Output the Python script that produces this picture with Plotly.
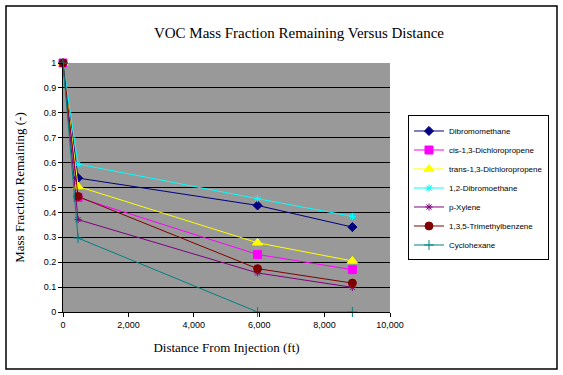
import plotly.graph_objects as go

distance = [0, 460, 5950, 8850]

dibromomethane = [1.0, 0.538, 0.428, 0.341]
cis_dcp = [1.0, 0.460, 0.231, 0.170]
trans_dcp = [1.0, 0.504, 0.278, 0.205]
dibromoethane = [1.0, 0.594, 0.455, 0.384]
p_xylene = [1.0, 0.371, 0.157, 0.099]
tmb = [1.0, 0.464, 0.174, 0.116]
cyclohexane = [1.0, 0.297, 0.0, 0.0]

x_ticks = [0, 2000, 4000, 6000, 8000, 10000]
y_ticks = [0, 0.1, 0.2, 0.3, 0.4, 0.5, 0.6, 0.7, 0.8, 0.9, 1]
grid_vals = [0.1, 0.2, 0.3, 0.4, 0.5, 0.6, 0.7, 0.8, 0.9]

series = [
    ("Dibromomethane", dibromomethane, "#000080", "diamond", 7),
    ("cis-1,3-Dichloropropene", cis_dcp, "#FF00FF", "square", 8),
    ("trans-1,3-Dichloropropene", trans_dcp, "#FFFF00", "triangle-up", 9),
    ("1,2-Dibromoethane", dibromoethane, "#00FFFF", "asterisk-open", 6),
    ("p-Xylene", p_xylene, "#800080", "asterisk-open", 6),
    ("1,3,5-Trimethylbenzene", tmb, "#800000", "circle", 8),
    ("Cyclohexane", cyclohexane, "#008080", "cross-thin-open", 7),
]

serif = "Liberation Serif, Times New Roman"
sans = "Liberation Sans, Arial"

fig = go.Figure()
for name, vals, color, symbol, size in series:
    fig.add_trace(go.Scatter(
        x=distance, y=vals, name=name, mode="lines+markers",
        line=dict(color=color, width=1), cliponaxis=False,
        marker=dict(symbol=symbol, size=size, color=color,
                    line=dict(color=color, width=1)),
    ))

# invisible helper trace so the grid-only axis gets drawn
fig.add_trace(go.Scatter(x=[0], y=[0], yaxis="y2", mode="markers",
                         marker=dict(opacity=0), showlegend=False,
                         hoverinfo="skip"))

fig.update_layout(
    width=563, height=375,
    margin=dict(l=63, r=173, t=63, b=63),
    paper_bgcolor="white",
    plot_bgcolor="#999999",
    font=dict(family=sans, size=9, color="black"),
    title=dict(text="VOC Mass Fraction Remaining Versus Distance",
               font=dict(family=serif, size=15),
               x=0.531, xanchor="center", y=0.912, yanchor="middle"),
    showlegend=True,
    legend=dict(x=1.055, xanchor="left", y=0.498, yanchor="middle",
                bgcolor="white", bordercolor="black", borderwidth=1,
                font=dict(family=sans, size=8),
                tracegroupgap=0),
    xaxis=dict(range=[0, 10000], tickvals=x_ticks, tickformat=",",
               showgrid=False, zeroline=False, automargin=False,
               showline=True, linecolor="black", linewidth=1,
               ticks="outside", ticklen=4, tickcolor="black",
               title=dict(text="Distance From Injection (ft)",
                          font=dict(family=serif, size=13),
                          standoff=14)),
    yaxis=dict(range=[0, 1], tickvals=y_ticks,
               showgrid=False, zeroline=False, automargin=False,
               showline=True, linecolor="black", linewidth=1,
               ticks="outside", ticklen=4, tickcolor="black",
               title=dict(text="Mass Fraction Remaining (-)",
                          font=dict(family=serif, size=13),
                          standoff=16)),
    yaxis2=dict(range=[0, 1], tickvals=grid_vals, overlaying="y",
                showticklabels=False, showgrid=True, gridcolor="black",
                gridwidth=1, zeroline=False, showline=False, ticks="",
                automargin=False),
)

fig.add_shape(type="rect", xref="paper", yref="paper",
              x0=-57 / 327, x1=494 / 327, y0=-57 / 249, y1=306 / 249,
              line=dict(color="black", width=1.5), fillcolor="rgba(0,0,0,0)",
              layer="below")

fig.write_html("out.html", config={"displayModeBar": False},
               post_script="document.body.style.margin='0';")
